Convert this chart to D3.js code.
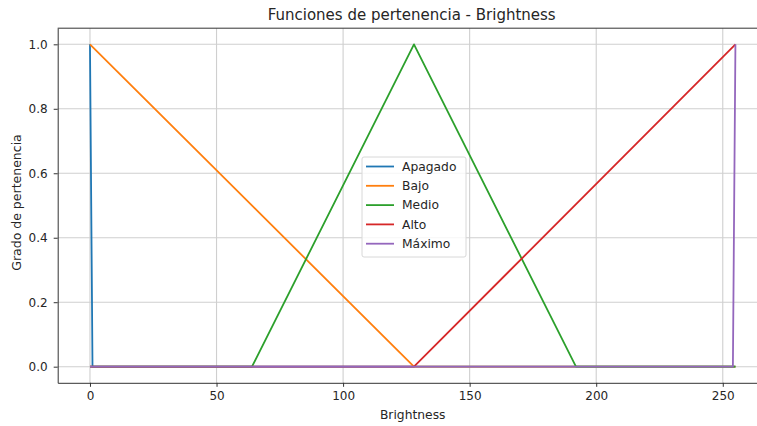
<!DOCTYPE html>
<html><head><meta charset="utf-8">
<script src="https://cdn.jsdelivr.net/npm/d3@7"></script>
<style>body{margin:0;background:#fff}svg{display:block}text{font-family:"DejaVu Sans",sans-serif;fill:#262626}</style>
</head><body><svg id="c" width="757" height="426"></svg>
<script>
const seriesNames = ["Apagado","Bajo","Medio","Alto","Máximo"];
const colors = ["#1f77b4","#ff7f0e","#2ca02c","#d62728","#9467bd"];
const apagadoX = [0,1,255], apagadoY = [1,0,0];
const bajoX = [0,128,255], bajoY = [1,0,0];
const medioX = [0,64,128,192,255], medioY = [0,0,1,0,0];
const altoX = [0,128,255], altoY = [0,0,1];
const maximoX = [0,254,255], maximoY = [0,0,1];
const xTicks = [0,50,100,150,200,250];
const yTicks = [0,0.2,0.4,0.6,0.8,1.0];

const series = [[apagadoX,apagadoY],[bajoX,bajoY],[medioX,medioY],[altoX,altoY],[maximoX,maximoY]];
const svg = d3.select("#c");
const L=57.7, R=767.7, T=28.2, B=382.8;
const x = d3.scaleLinear().domain([-12.75,267.75]).range([L,R]);
const y = d3.scaleLinear().domain([-0.05,1.05]).range([B,T]);

// grid
const g = svg.append("g");
g.selectAll(".gx").data(xTicks).join("line").attr("x1",d=>x(d)).attr("x2",d=>x(d)).attr("y1",T).attr("y2",B).attr("stroke","#cfcfcf").attr("stroke-width",1.1);
g.selectAll(".gy").data(yTicks).join("line").attr("y1",d=>y(d)).attr("y2",d=>y(d)).attr("x1",L).attr("x2",R).attr("stroke","#cfcfcf").attr("stroke-width",1.1);

// lines
const line = d3.line().x(d=>x(d[0])).y(d=>y(d[1]));
series.forEach((s,i)=>{
  const pts = s[0].map((v,j)=>[v,s[1][j]]);
  svg.append("path").attr("d",line(pts)).attr("fill","none").attr("stroke",colors[i]).attr("stroke-width",1.8).attr("stroke-linejoin","round");
});

// axes
const xa = svg.append("g").attr("transform",`translate(0,${B})`).call(d3.axisBottom(x).tickValues(xTicks).tickFormat(d3.format("d")).tickSizeInner(4).tickSizeOuter(0).tickPadding(5));
const ya = svg.append("g").attr("transform",`translate(${L},0)`).call(d3.axisLeft(y).tickValues(yTicks).tickFormat(d3.format(".1f")).tickSizeInner(4).tickSizeOuter(0).tickPadding(6));
[xa,ya].forEach(a=>{a.selectAll("text").style("font-size","12px").attr("fill","#262626");a.selectAll("line").attr("stroke","#333");a.select(".domain").attr("stroke","#333").attr("stroke-width",1);});
// top spine
svg.append("line").attr("x1",L).attr("x2",R).attr("y1",T).attr("y2",T).attr("stroke","#333").attr("stroke-width",1);

// labels
svg.append("text").attr("x",(L+R)/2-1).attr("y",20).attr("text-anchor","middle").style("font-size","15px").text("Funciones de pertenencia - Brightness");
svg.append("text").attr("x",(L+R)/2).attr("y",418.5).attr("text-anchor","middle").style("font-size","12.3px").text("Brightness");
svg.append("text").attr("transform",`translate(21,${(T+B)/2-3}) rotate(-90)`).attr("text-anchor","middle").style("font-size","12.5px").text("Grado de pertenencia");

// legend
const lg = svg.append("g").attr("transform","translate(362,157)");
lg.append("rect").attr("width",104).attr("height",100).attr("rx",2).attr("fill","#fff").attr("fill-opacity",0.8).attr("stroke","#d8d8d8");
seriesNames.forEach((n,i)=>{
  const yy = 9.5 + i*19.3;
  lg.append("line").attr("x1",4).attr("x2",32).attr("y1",yy).attr("y2",yy).attr("stroke",colors[i]).attr("stroke-width",1.8);
  lg.append("text").attr("x",40).attr("y",yy+4.3).style("font-size","12.3px").text(n);
});
</script></body></html>
